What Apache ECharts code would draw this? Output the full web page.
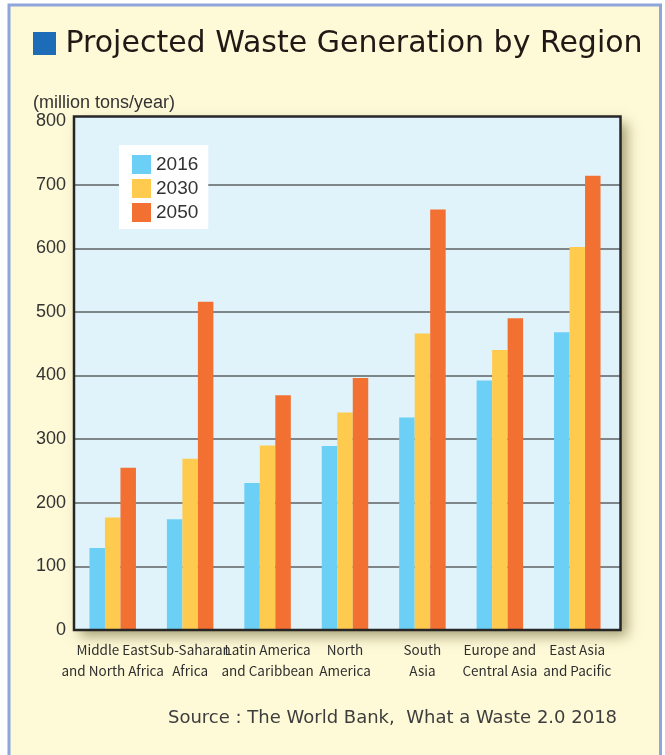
<!DOCTYPE html>
<html>
<head>
<meta charset="utf-8">
<script src="https://cdn.jsdelivr.net/npm/echarts@6/dist/echarts.min.js"></script>
<style>
  html, body { margin: 0; padding: 0; background: #ffffff; }
  #chart { width: 665px; height: 755px; }
</style>
</head>
<body>
<div id="chart"></div>
<script>
// Municipal solid waste by region, million tons per year
const categories = [
  'Middle East\nand North Africa',
  'Sub-Saharan\nAfrica',
  'Latin America\nand Caribbean',
  'North\nAmerica',
  'South\nAsia',
  'Europe and\nCentral Asia',
  'East Asia\nand Pacific'
];
const seriesNames = ['2016', '2030', '2050'];
const values2016 = [129, 174, 231, 289, 334, 392, 468];
const values2030 = [177, 269, 290, 342, 466, 440, 602];
const values2050 = [255, 516, 369, 396, 661, 490, 714];
const yMin = 0;
const yMax = 800;
const yStep = 100;

const titleText = 'Projected Waste Generation by Region';
const unitText = '(million tons/year)';
const sourceText = 'Source : The World Bank,  What a Waste 2.0 2018';

const colors = ['#6CCFF6', '#FFCB4F', '#F37033'];
const PAGE_BG = '#FEF9D7';
const PLOT_BG = '#E0F3FB';
const plotBox = { x: 74, y: 116.5, width: 546.5, height: 513.5 };

const chart = echarts.init(document.getElementById('chart'), null, { renderer: 'canvas' });

const seriesValues = [values2016, values2030, values2050];

const option = {
  backgroundColor: '#ffffff',
  animation: false,
  graphic: [
    // outer panel
    { type: 'rect', z: -100, shape: { x: 9, y: 5, width: 651.5, height: 790 },
      style: { fill: PAGE_BG, stroke: '#8EA6DB', lineWidth: 3 } },
    // plot background with drop shadow
    { type: 'rect', z: -90, shape: plotBox,
      style: { fill: PLOT_BG, shadowBlur: 12, shadowOffsetX: 6, shadowOffsetY: 6,
               shadowColor: 'rgba(80,70,20,0.5)' } },
    // plot frame
    { type: 'rect', z: 50, shape: plotBox,
      style: { fill: null, stroke: '#262626', lineWidth: 2.5 } },
    // title marker
    { type: 'rect', z: 10, shape: { x: 33, y: 32, width: 23, height: 23 },
      style: { fill: '#1C6CB7' } },
    { type: 'text', z: 10, x: 65.5, y: 44,
      style: { text: titleText, font: '30px "DejaVu Sans"', fill: '#231815',
               textAlign: 'left', textVerticalAlign: 'middle' } },
    { type: 'text', z: 10, x: 33, y: 103.5,
      style: { text: unitText, font: '18px "Liberation Sans"', fill: '#333333',
               textAlign: 'left', textVerticalAlign: 'middle' } },
    { type: 'text', z: 10, x: 168, y: 718.5,
      style: { text: sourceText, font: '18px "DejaVu Sans"', fill: '#3d3d3d',
               textAlign: 'left', textVerticalAlign: 'middle' } }
  ],
  legend: {
    data: seriesNames,
    orient: 'vertical',
    left: 119,
    top: 145,
    itemWidth: 19,
    itemHeight: 19,
    itemGap: 5,
    padding: [10, 10, 7, 13],
    backgroundColor: '#ffffff',
    icon: 'rect',
    textStyle: { fontFamily: '"Liberation Sans"', fontSize: 19, color: '#333333' }
  },
  grid: [
    // gridline layer spanning the whole frame
    { left: 74, right: 44.5, top: 121, height: 509, containLabel: false },
    // bar layer
    { left: 74, right: 49, top: 121, height: 509, containLabel: false }
  ],
  xAxis: [
    { gridIndex: 0, type: 'category', data: categories, show: false },
    { gridIndex: 1, type: 'category', data: categories,
      axisLine: { show: false }, axisTick: { show: false },
      axisLabel: { interval: 0, margin: 9, fontFamily: '"Noto Sans CJK JP"',
                   fontSize: 13.5, lineHeight: 21, color: '#2e2e2e' } }
  ],
  yAxis: [
    { gridIndex: 0, type: 'value', min: yMin, max: yMax, interval: yStep,
      axisLine: { show: false }, axisTick: { show: false },
      axisLabel: { margin: 8, fontFamily: '"Liberation Sans"', fontSize: 18, color: '#333333' },
      splitLine: { show: true, showMinLine: false, showMaxLine: false,
                   lineStyle: { color: '#5f6264', width: 1.5 } } },
    { gridIndex: 1, type: 'value', min: yMin, max: yMax, interval: yStep, show: false }
  ],
  series: seriesNames.map((name, i) => ({
    name: name,
    type: 'bar',
    xAxisIndex: 1,
    yAxisIndex: 1,
    data: seriesValues[i],
    barWidth: 15.5,
    barGap: '0%',
    itemStyle: { color: colors[i] }
  }))
};

chart.setOption(option);
</script>
</body>
</html>
